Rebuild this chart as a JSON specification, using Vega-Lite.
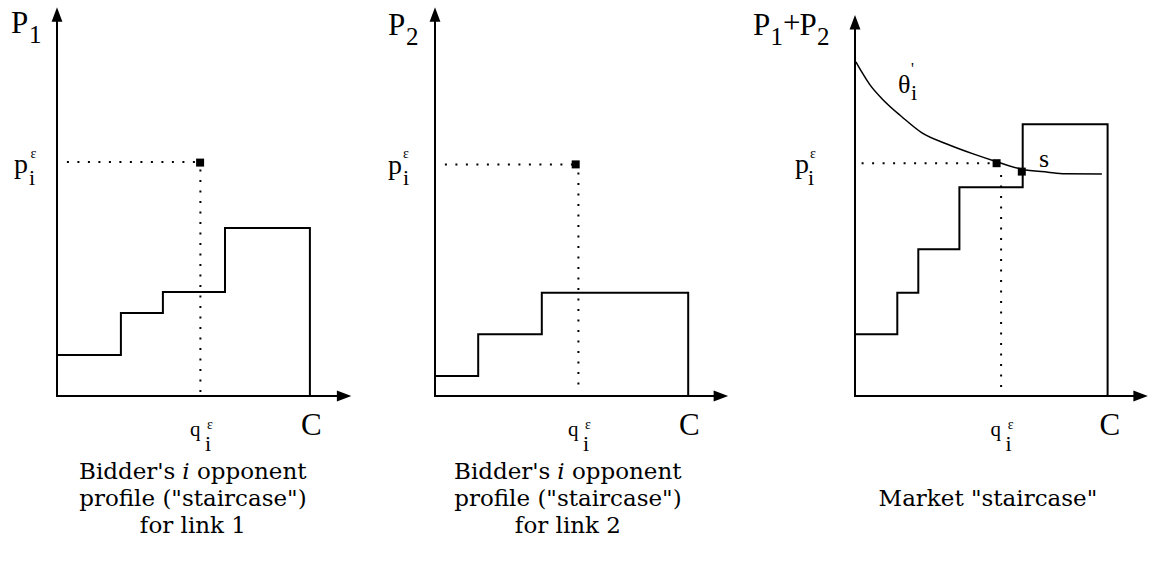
{
  "$schema": "https://vega.github.io/schema/vega-lite/v6.json",
  "padding": 0,
  "spacing": 0,
  "bounds": "flush",
  "background": "white",
  "config": {"view": {"stroke": null}},
  "datasets": {
    "axes": [
      {"p": 1, "i": 0, "x": 0, "y": 126}, {"p": 1, "i": 1, "x": 0, "y": 0}, {"p": 1, "i": 2, "x": 95, "y": 0},
      {"p": 2, "i": 0, "x": 0, "y": 126}, {"p": 2, "i": 1, "x": 0, "y": 0}, {"p": 2, "i": 2, "x": 95, "y": 0},
      {"p": 3, "i": 0, "x": 0, "y": 123.5}, {"p": 3, "i": 1, "x": 0, "y": 0}, {"p": 3, "i": 2, "x": 94.5, "y": 0}
    ],
    "arrows": [
      {"p": 1, "dir": "up", "x": 0, "y": 127.2}, {"p": 1, "dir": "right", "x": 95.7, "y": 0},
      {"p": 2, "dir": "up", "x": 0, "y": 127.2}, {"p": 2, "dir": "right", "x": 95.3, "y": 0},
      {"p": 3, "dir": "up", "x": 0, "y": 124.6}, {"p": 3, "dir": "right", "x": 95.2, "y": 0}
    ],
    "stairs": [
      {"p": 1, "i": 0, "x": 0, "y": 13.7}, {"p": 1, "i": 1, "x": 21.3, "y": 13.7}, {"p": 1, "i": 2, "x": 21.3, "y": 27.7},
      {"p": 1, "i": 3, "x": 35.3, "y": 27.7}, {"p": 1, "i": 4, "x": 35.3, "y": 34.7}, {"p": 1, "i": 5, "x": 56, "y": 34.7},
      {"p": 1, "i": 6, "x": 56, "y": 56}, {"p": 1, "i": 7, "x": 84.3, "y": 56}, {"p": 1, "i": 8, "x": 84.3, "y": 0},
      {"p": 2, "i": 0, "x": 0, "y": 6.7}, {"p": 2, "i": 1, "x": 14.4, "y": 6.7}, {"p": 2, "i": 2, "x": 14.4, "y": 20.6},
      {"p": 2, "i": 3, "x": 35.6, "y": 20.6}, {"p": 2, "i": 4, "x": 35.6, "y": 34.4}, {"p": 2, "i": 5, "x": 84.4, "y": 34.4},
      {"p": 2, "i": 6, "x": 84.4, "y": 0},
      {"p": 3, "i": 0, "x": 0, "y": 20.6}, {"p": 3, "i": 1, "x": 14.1, "y": 20.6}, {"p": 3, "i": 2, "x": 14.1, "y": 34.4},
      {"p": 3, "i": 3, "x": 21.1, "y": 34.4}, {"p": 3, "i": 4, "x": 21.1, "y": 48.9}, {"p": 3, "i": 5, "x": 34.8, "y": 48.9},
      {"p": 3, "i": 6, "x": 34.8, "y": 69.6}, {"p": 3, "i": 7, "x": 55.9, "y": 69.6}, {"p": 3, "i": 8, "x": 55.9, "y": 90.6},
      {"p": 3, "i": 9, "x": 84.2, "y": 90.6}, {"p": 3, "i": 10, "x": 84.2, "y": 0}
    ],
    "guides": [
      {"p": 1, "seg": "h", "i": 0, "x": 3.3, "y": 78}, {"p": 1, "seg": "h", "i": 1, "x": 47.7, "y": 78},
      {"p": 1, "seg": "v", "i": 0, "x": 47.8, "y": 75.5}, {"p": 1, "seg": "v", "i": 1, "x": 47.8, "y": 1},
      {"p": 2, "seg": "h", "i": 0, "x": 3.3, "y": 77.2}, {"p": 2, "seg": "h", "i": 1, "x": 46.9, "y": 77.2},
      {"p": 2, "seg": "v", "i": 0, "x": 47.8, "y": 74.5}, {"p": 2, "seg": "v", "i": 1, "x": 47.8, "y": 3},
      {"p": 3, "seg": "h", "i": 0, "x": 2.2, "y": 77.6}, {"p": 3, "seg": "h", "i": 1, "x": 47.2, "y": 77.6},
      {"p": 3, "seg": "v", "i": 0, "x": 48.7, "y": 73.7}, {"p": 3, "seg": "v", "i": 1, "x": 48.7, "y": 2.7}
    ],
    "squares": [
      {"p": 1, "x": 47.7, "y": 77.8}, {"p": 2, "x": 46.9, "y": 77.2},
      {"p": 3, "x": 47.2, "y": 77.6}, {"p": 3, "x": 55.6, "y": 74.8}
    ],
    "curve": [
      {"i": 0, "x": 0.3, "y": 111.4}, {"i": 1, "x": 2.2, "y": 108.1}, {"i": 2, "x": 5, "y": 103.7},
      {"i": 3, "x": 9.4, "y": 98.7}, {"i": 4, "x": 15.6, "y": 93.1}, {"i": 5, "x": 22.2, "y": 87.8},
      {"i": 6, "x": 30.6, "y": 84}, {"i": 7, "x": 39.4, "y": 80.7}, {"i": 8, "x": 47.2, "y": 78.1},
      {"i": 9, "x": 55.6, "y": 75.6}, {"i": 10, "x": 64.3, "y": 74.6}, {"i": 11, "x": 70, "y": 74.1},
      {"i": 12, "x": 82.3, "y": 74}
    ],
    "labels": [
      {"p": 1, "r": "cap", "t": "P", "x": -15.3, "y": 121.1},
      {"p": 1, "r": "num", "t": "1", "x": -9.3, "y": 117.7},
      {"p": 1, "r": "p", "t": "p", "x": -14.3, "y": 74.2},
      {"p": 1, "r": "sup", "t": "ε", "x": -8.8, "y": 79.5},
      {"p": 1, "r": "sub", "t": "i", "x": -9.3, "y": 70.3},
      {"p": 1, "r": "q", "t": "q", "x": 44.3, "y": -13.3},
      {"p": 1, "r": "sup", "t": "ε", "x": 50, "y": -11},
      {"p": 1, "r": "sub", "t": "i", "x": 49.3, "y": -18.3},
      {"p": 1, "r": "cap", "t": "C", "x": 81.3, "y": -13},
      {"p": 2, "r": "cap", "t": "P", "x": -15.7, "y": 120.5},
      {"p": 2, "r": "num", "t": "2", "x": -9.7, "y": 117},
      {"p": 2, "r": "p", "t": "p", "x": -15.7, "y": 74},
      {"p": 2, "r": "sup", "t": "ε", "x": -10.7, "y": 79.5},
      {"p": 2, "r": "sub", "t": "i", "x": -10.7, "y": 70.3},
      {"p": 2, "r": "q", "t": "q", "x": 44.3, "y": -13.3},
      {"p": 2, "r": "sup", "t": "ε", "x": 50, "y": -11},
      {"p": 2, "r": "sub", "t": "i", "x": 49.3, "y": -18.3},
      {"p": 2, "r": "cap", "t": "C", "x": 81.3, "y": -13},
      {"p": 3, "r": "cap", "t": "P", "x": -34, "y": 120.3},
      {"p": 3, "r": "num", "t": "1", "x": -28.2, "y": 117},
      {"p": 3, "r": "cap", "t": "+", "x": -24, "y": 121},
      {"p": 3, "r": "cap", "t": "P", "x": -18.5, "y": 120.3},
      {"p": 3, "r": "num", "t": "2", "x": -12.7, "y": 117},
      {"p": 3, "r": "p", "t": "p", "x": -20, "y": 74.3},
      {"p": 3, "r": "sup", "t": "ε", "x": -15, "y": 79.3},
      {"p": 3, "r": "sub", "t": "i", "x": -15.7, "y": 70.3},
      {"p": 3, "r": "g26", "t": "θ", "x": 14.3, "y": 101},
      {"p": 3, "r": "prime", "t": "'", "x": 18.7, "y": 107.3},
      {"p": 3, "r": "sub", "t": "i", "x": 18.7, "y": 98.7},
      {"p": 3, "r": "g26", "t": "s", "x": 61.3, "y": 76.3},
      {"p": 3, "r": "q", "t": "q", "x": 45.2, "y": -13.3},
      {"p": 3, "r": "sup", "t": "ε", "x": 50.9, "y": -11},
      {"p": 3, "r": "sub", "t": "i", "x": 50.2, "y": -18.3},
      {"p": 3, "r": "cap", "t": "C", "x": 81.5, "y": -13}
    ],
    "captions": [
      {"p": 1, "it": false, "t": "Bidder's", "x": 23.4, "y": -27.5},
      {"p": 1, "it": true, "t": "i", "x": 43, "y": -27.5},
      {"p": 1, "it": false, "t": "opponent", "x": 64.9, "y": -27.5},
      {"p": 1, "it": false, "t": "profile (\"staircase\")", "x": 45.3, "y": -36.5},
      {"p": 1, "it": false, "t": "for link 1", "x": 45.3, "y": -45.5},
      {"p": 2, "it": false, "t": "Bidder's", "x": 22.4, "y": -27.5},
      {"p": 2, "it": true, "t": "i", "x": 42, "y": -27.5},
      {"p": 2, "it": false, "t": "opponent", "x": 63.9, "y": -27.5},
      {"p": 2, "it": false, "t": "profile (\"staircase\")", "x": 44.3, "y": -36.5},
      {"p": 2, "it": false, "t": "for link 2", "x": 44.3, "y": -45.5},
      {"p": 3, "it": false, "t": "Market \"staircase\"", "x": 44.3, "y": -36.5}
    ]
  },
  "hconcat": [
    {
      "width": 399,
      "height": 570,
      "encoding": {
        "x": {"field": "x", "type": "quantitative", "scale": {"domain": [-19, 114], "nice": false, "zero": false}, "axis": null},
        "y": {"field": "y", "type": "quantitative", "scale": {"domain": [-58, 132], "nice": false, "zero": false}, "axis": null}
      },
      "layer": [
        {"data": {"name": "axes"}, "transform": [{"filter": "datum.p == 1"}], "mark": {"type": "line", "color": "black", "strokeWidth": 2}, "encoding": {"order": {"field": "i", "type": "quantitative"}}},
        {"data": {"name": "arrows"}, "transform": [{"filter": "datum.p == 1"}], "mark": {"type": "point", "filled": true, "color": "black", "size": 210, "opacity": 1}, "encoding": {"shape": {"field": "dir", "type": "nominal", "scale": {"domain": ["up", "right"], "range": ["M0,-1L-0.75,1L0.75,1Z", "M1,0L-1,-0.75L-1,0.75Z"]}, "legend": null}}},
        {"data": {"name": "stairs"}, "transform": [{"filter": "datum.p == 1"}], "mark": {"type": "line", "color": "black", "strokeWidth": 2}, "encoding": {"order": {"field": "i", "type": "quantitative"}}},
        {"data": {"name": "guides"}, "transform": [{"filter": "datum.p == 1"}], "mark": {"type": "line", "color": "black", "strokeWidth": 2, "strokeDash": [2, 8.5], "strokeCap": "butt"}, "encoding": {"detail": {"field": "seg", "type": "nominal"}, "order": {"field": "i", "type": "quantitative"}}},
        {"data": {"name": "squares"}, "transform": [{"filter": "datum.p == 1"}], "mark": {"type": "square", "filled": true, "color": "black", "size": 64, "opacity": 1}},
        {"data": {"name": "labels"}, "transform": [{"filter": "datum.p == 1 && datum.r == 'cap'"}], "mark": {"type": "text", "font": "Liberation Serif", "fontSize": 31, "align": "left", "baseline": "alphabetic", "color": "black"}, "encoding": {"text": {"field": "t", "type": "nominal"}}},
        {"data": {"name": "labels"}, "transform": [{"filter": "datum.p == 1 && datum.r == 'num'"}], "mark": {"type": "text", "font": "Liberation Serif", "fontSize": 25, "align": "left", "baseline": "alphabetic", "color": "black"}, "encoding": {"text": {"field": "t", "type": "nominal"}}},
        {"data": {"name": "labels"}, "transform": [{"filter": "datum.p == 1 && datum.r == 'p'"}], "mark": {"type": "text", "font": "Liberation Serif", "fontSize": 28, "align": "left", "baseline": "alphabetic", "color": "black"}, "encoding": {"text": {"field": "t", "type": "nominal"}}},
        {"data": {"name": "labels"}, "transform": [{"filter": "datum.p == 1 && datum.r == 'sup'"}], "mark": {"type": "text", "font": "Liberation Serif", "fontSize": 14, "align": "left", "baseline": "alphabetic", "color": "black"}, "encoding": {"text": {"field": "t", "type": "nominal"}}},
        {"data": {"name": "labels"}, "transform": [{"filter": "datum.p == 1 && datum.r == 'sub'"}], "mark": {"type": "text", "font": "Liberation Serif", "fontSize": 22, "align": "left", "baseline": "alphabetic", "color": "black"}, "encoding": {"text": {"field": "t", "type": "nominal"}}},
        {"data": {"name": "labels"}, "transform": [{"filter": "datum.p == 1 && datum.r == 'q'"}], "mark": {"type": "text", "font": "Liberation Serif", "fontSize": 21, "align": "left", "baseline": "alphabetic", "color": "black"}, "encoding": {"text": {"field": "t", "type": "nominal"}}},
        {"data": {"name": "captions"}, "transform": [{"filter": "datum.p == 1 && !datum.it"}], "mark": {"type": "text", "font": "DejaVu Serif", "fontSize": 23, "align": "center", "baseline": "alphabetic", "color": "black"}, "encoding": {"text": {"field": "t", "type": "nominal"}}},
        {"data": {"name": "captions"}, "transform": [{"filter": "datum.p == 1 && datum.it"}], "mark": {"type": "text", "font": "DejaVu Serif", "fontStyle": "italic", "fontSize": 23, "align": "center", "baseline": "alphabetic", "color": "black"}, "encoding": {"text": {"field": "t", "type": "nominal"}}}
      ]
    },
    {
      "width": 420,
      "height": 570,
      "encoding": {
        "x": {"field": "x", "type": "quantitative", "scale": {"domain": [-12, 128], "nice": false, "zero": false}, "axis": null},
        "y": {"field": "y", "type": "quantitative", "scale": {"domain": [-58, 132], "nice": false, "zero": false}, "axis": null}
      },
      "layer": [
        {"data": {"name": "axes"}, "transform": [{"filter": "datum.p == 2"}], "mark": {"type": "line", "color": "black", "strokeWidth": 2}, "encoding": {"order": {"field": "i", "type": "quantitative"}}},
        {"data": {"name": "arrows"}, "transform": [{"filter": "datum.p == 2"}], "mark": {"type": "point", "filled": true, "color": "black", "size": 210, "opacity": 1}, "encoding": {"shape": {"field": "dir", "type": "nominal", "scale": {"domain": ["up", "right"], "range": ["M0,-1L-0.75,1L0.75,1Z", "M1,0L-1,-0.75L-1,0.75Z"]}, "legend": null}}},
        {"data": {"name": "stairs"}, "transform": [{"filter": "datum.p == 2"}], "mark": {"type": "line", "color": "black", "strokeWidth": 2}, "encoding": {"order": {"field": "i", "type": "quantitative"}}},
        {"data": {"name": "guides"}, "transform": [{"filter": "datum.p == 2"}], "mark": {"type": "line", "color": "black", "strokeWidth": 2, "strokeDash": [2, 8.5], "strokeCap": "butt"}, "encoding": {"detail": {"field": "seg", "type": "nominal"}, "order": {"field": "i", "type": "quantitative"}}},
        {"data": {"name": "squares"}, "transform": [{"filter": "datum.p == 2"}], "mark": {"type": "square", "filled": true, "color": "black", "size": 64, "opacity": 1}},
        {"data": {"name": "labels"}, "transform": [{"filter": "datum.p == 2 && datum.r == 'cap'"}], "mark": {"type": "text", "font": "Liberation Serif", "fontSize": 31, "align": "left", "baseline": "alphabetic", "color": "black"}, "encoding": {"text": {"field": "t", "type": "nominal"}}},
        {"data": {"name": "labels"}, "transform": [{"filter": "datum.p == 2 && datum.r == 'num'"}], "mark": {"type": "text", "font": "Liberation Serif", "fontSize": 25, "align": "left", "baseline": "alphabetic", "color": "black"}, "encoding": {"text": {"field": "t", "type": "nominal"}}},
        {"data": {"name": "labels"}, "transform": [{"filter": "datum.p == 2 && datum.r == 'p'"}], "mark": {"type": "text", "font": "Liberation Serif", "fontSize": 28, "align": "left", "baseline": "alphabetic", "color": "black"}, "encoding": {"text": {"field": "t", "type": "nominal"}}},
        {"data": {"name": "labels"}, "transform": [{"filter": "datum.p == 2 && datum.r == 'sup'"}], "mark": {"type": "text", "font": "Liberation Serif", "fontSize": 14, "align": "left", "baseline": "alphabetic", "color": "black"}, "encoding": {"text": {"field": "t", "type": "nominal"}}},
        {"data": {"name": "labels"}, "transform": [{"filter": "datum.p == 2 && datum.r == 'sub'"}], "mark": {"type": "text", "font": "Liberation Serif", "fontSize": 22, "align": "left", "baseline": "alphabetic", "color": "black"}, "encoding": {"text": {"field": "t", "type": "nominal"}}},
        {"data": {"name": "labels"}, "transform": [{"filter": "datum.p == 2 && datum.r == 'q'"}], "mark": {"type": "text", "font": "Liberation Serif", "fontSize": 21, "align": "left", "baseline": "alphabetic", "color": "black"}, "encoding": {"text": {"field": "t", "type": "nominal"}}},
        {"data": {"name": "captions"}, "transform": [{"filter": "datum.p == 2 && !datum.it"}], "mark": {"type": "text", "font": "DejaVu Serif", "fontSize": 23, "align": "center", "baseline": "alphabetic", "color": "black"}, "encoding": {"text": {"field": "t", "type": "nominal"}}},
        {"data": {"name": "captions"}, "transform": [{"filter": "datum.p == 2 && datum.it"}], "mark": {"type": "text", "font": "DejaVu Serif", "fontStyle": "italic", "fontSize": 23, "align": "center", "baseline": "alphabetic", "color": "black"}, "encoding": {"text": {"field": "t", "type": "nominal"}}}
      ]
    },
    {
      "width": 330,
      "height": 570,
      "encoding": {
        "x": {"field": "x", "type": "quantitative", "scale": {"domain": [-12, 98], "nice": false, "zero": false}, "axis": null},
        "y": {"field": "y", "type": "quantitative", "scale": {"domain": [-58, 132], "nice": false, "zero": false}, "axis": null}
      },
      "layer": [
        {"data": {"name": "axes"}, "transform": [{"filter": "datum.p == 3"}], "mark": {"type": "line", "color": "black", "strokeWidth": 2}, "encoding": {"order": {"field": "i", "type": "quantitative"}}},
        {"data": {"name": "arrows"}, "transform": [{"filter": "datum.p == 3"}], "mark": {"type": "point", "filled": true, "color": "black", "size": 210, "opacity": 1}, "encoding": {"shape": {"field": "dir", "type": "nominal", "scale": {"domain": ["up", "right"], "range": ["M0,-1L-0.75,1L0.75,1Z", "M1,0L-1,-0.75L-1,0.75Z"]}, "legend": null}}},
        {"data": {"name": "stairs"}, "transform": [{"filter": "datum.p == 3"}], "mark": {"type": "line", "color": "black", "strokeWidth": 2}, "encoding": {"order": {"field": "i", "type": "quantitative"}}},
        {"data": {"name": "curve"}, "mark": {"type": "line", "color": "black", "strokeWidth": 1.5, "interpolate": "monotone"}, "encoding": {"order": {"field": "i", "type": "quantitative"}}},
        {"data": {"name": "guides"}, "transform": [{"filter": "datum.p == 3"}], "mark": {"type": "line", "color": "black", "strokeWidth": 2, "strokeDash": [2, 8.5], "strokeCap": "butt"}, "encoding": {"detail": {"field": "seg", "type": "nominal"}, "order": {"field": "i", "type": "quantitative"}}},
        {"data": {"name": "squares"}, "transform": [{"filter": "datum.p == 3"}], "mark": {"type": "square", "filled": true, "color": "black", "size": 64, "opacity": 1}},
        {"data": {"name": "labels"}, "transform": [{"filter": "datum.p == 3 && datum.r == 'cap'"}], "mark": {"type": "text", "font": "Liberation Serif", "fontSize": 31, "align": "left", "baseline": "alphabetic", "color": "black"}, "encoding": {"text": {"field": "t", "type": "nominal"}}},
        {"data": {"name": "labels"}, "transform": [{"filter": "datum.p == 3 && datum.r == 'num'"}], "mark": {"type": "text", "font": "Liberation Serif", "fontSize": 25, "align": "left", "baseline": "alphabetic", "color": "black"}, "encoding": {"text": {"field": "t", "type": "nominal"}}},
        {"data": {"name": "labels"}, "transform": [{"filter": "datum.p == 3 && datum.r == 'p'"}], "mark": {"type": "text", "font": "Liberation Serif", "fontSize": 28, "align": "left", "baseline": "alphabetic", "color": "black"}, "encoding": {"text": {"field": "t", "type": "nominal"}}},
        {"data": {"name": "labels"}, "transform": [{"filter": "datum.p == 3 && datum.r == 'sup'"}], "mark": {"type": "text", "font": "Liberation Serif", "fontSize": 14, "align": "left", "baseline": "alphabetic", "color": "black"}, "encoding": {"text": {"field": "t", "type": "nominal"}}},
        {"data": {"name": "labels"}, "transform": [{"filter": "datum.p == 3 && datum.r == 'sub'"}], "mark": {"type": "text", "font": "Liberation Serif", "fontSize": 22, "align": "left", "baseline": "alphabetic", "color": "black"}, "encoding": {"text": {"field": "t", "type": "nominal"}}},
        {"data": {"name": "labels"}, "transform": [{"filter": "datum.p == 3 && datum.r == 'q'"}], "mark": {"type": "text", "font": "Liberation Serif", "fontSize": 21, "align": "left", "baseline": "alphabetic", "color": "black"}, "encoding": {"text": {"field": "t", "type": "nominal"}}},
        {"data": {"name": "labels"}, "transform": [{"filter": "datum.p == 3 && datum.r == 'g26'"}], "mark": {"type": "text", "font": "Liberation Serif", "fontSize": 26, "align": "left", "baseline": "alphabetic", "color": "black"}, "encoding": {"text": {"field": "t", "type": "nominal"}}},
        {"data": {"name": "labels"}, "transform": [{"filter": "datum.p == 3 && datum.r == 'prime'"}], "mark": {"type": "text", "font": "Liberation Serif", "fontSize": 16, "align": "left", "baseline": "alphabetic", "color": "black"}, "encoding": {"text": {"field": "t", "type": "nominal"}}},
        {"data": {"name": "captions"}, "transform": [{"filter": "datum.p == 3"}], "mark": {"type": "text", "font": "DejaVu Serif", "fontSize": 23, "align": "center", "baseline": "alphabetic", "color": "black"}, "encoding": {"text": {"field": "t", "type": "nominal"}}}
      ]
    }
  ]
}
